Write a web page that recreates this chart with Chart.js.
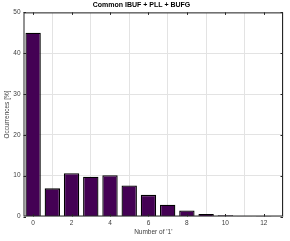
<!DOCTYPE html>
<html>
<head>
<meta charset="utf-8">
<script src="https://cdn.jsdelivr.net/npm/chart.js@4.4.1/dist/chart.umd.min.js"></script>
<style>
    html, body { margin: 0; padding: 0; background: #fff; }
</style>
</head>
<body>
<canvas id="histChart" width="290" height="241"></canvas>
<script>
// --- Data ---
const onesCount = [0, 1, 2, 3, 4, 5, 6, 7, 8, 9, 10, 11, 12];
const occurrences = [45.0, 6.9, 10.6, 9.75, 10.1, 7.6, 5.3, 2.9, 1.5, 0.6, 0.3, 0.05, 0.02];
const xTicks = [0, 2, 4, 6, 8, 10, 12];
const yTicks = [0, 10, 20, 30, 40, 50];

const chartTitle = 'Common IBUF + PLL + BUFG';
const xTitle = "Number of '1'";
const yTitle = 'Occurrences [%]';

// --- Style ---
const FONT = "'Liberation Sans', Arial, sans-serif";
const TICK_COLOR = '#404040';
const GRID_COLOR = '#e3e3e3';
const BOX_COLOR = '#262626';

// Box around the plot area plus inward tick marks (MATLAB look)
const boxPlugin = {
    id: 'box',
    afterDraw(chart) {
        const { ctx, chartArea: a, scales } = chart;
        ctx.save();
        ctx.strokeStyle = BOX_COLOR;
        ctx.lineWidth = 1;
        ctx.strokeRect(a.left + 0.5, a.top + 0.5, a.right - a.left - 1, a.bottom - a.top - 1);

        const len = 2.5;
        ctx.beginPath();
        xTicks.forEach(v => {
            const x = Math.round(scales.x.getPixelForValue(v)) + 0.5;
            ctx.moveTo(x, a.bottom); ctx.lineTo(x, a.bottom - len);
            ctx.moveTo(x, a.top); ctx.lineTo(x, a.top + len);
        });
        yTicks.forEach(v => {
            const y = Math.round(scales.y.getPixelForValue(v)) + 0.5;
            ctx.moveTo(a.left, y); ctx.lineTo(a.left + len, y);
            ctx.moveTo(a.right, y); ctx.lineTo(a.right - len, y);
        });
        ctx.stroke();
        ctx.restore();
    }
};

const ctx = document.getElementById('histChart').getContext('2d');

new Chart(ctx, {
    type: 'bar',
    data: {
        datasets: [{
            data: onesCount.map((x, i) => ({ x: x, y: occurrences[i] })),
            backgroundColor: '#440154',
            borderColor: '#000000',
            borderWidth: 1.3,
            barPercentage: 1,
            categoryPercentage: 0.8
        }]
    },
    options: {
        responsive: false,
        animation: false,
        layout: { padding: { left: 0, right: 7, top: 0, bottom: 0 } },
        plugins: {
            legend: { display: false },
            tooltip: { enabled: false },
            title: {
                display: true,
                text: chartTitle,
                color: '#000',
                font: { family: FONT, size: 7, weight: 'bold' },
                padding: { top: 1, bottom: 3 }
            }
        },
        scales: {
            x: {
                type: 'linear',
                min: -0.5,
                max: 13,
                offset: false,
                afterBuildTicks: s => { s.ticks = xTicks.map(v => ({ value: v })); },
                afterFit: s => { s.height = 24.5; },
                grid: { color: GRID_COLOR, drawTicks: false },
                border: { display: false },
                ticks: { color: TICK_COLOR, font: { family: FONT, size: 6.5 }, padding: 3, maxRotation: 0 },
                title: {
                    display: true, text: xTitle, color: TICK_COLOR,
                    font: { family: FONT, size: 6.5 }, padding: { top: 1, bottom: 5 }
                }
            },
            y: {
                min: 0,
                max: 50,
                afterBuildTicks: s => { s.ticks = yTicks.map(v => ({ value: v })); },
                afterFit: s => { s.width = 23.5; },
                grid: { color: GRID_COLOR, drawTicks: false },
                border: { display: false },
                ticks: { color: TICK_COLOR, font: { family: FONT, size: 6.5 }, padding: 3 },
                title: {
                    display: true, text: yTitle, color: TICK_COLOR,
                    font: { family: FONT, size: 6.5 }, padding: { top: 3, bottom: 0 }
                }
            }
        }
    },
    plugins: [boxPlugin]
});
</script>
</body>
</html>
